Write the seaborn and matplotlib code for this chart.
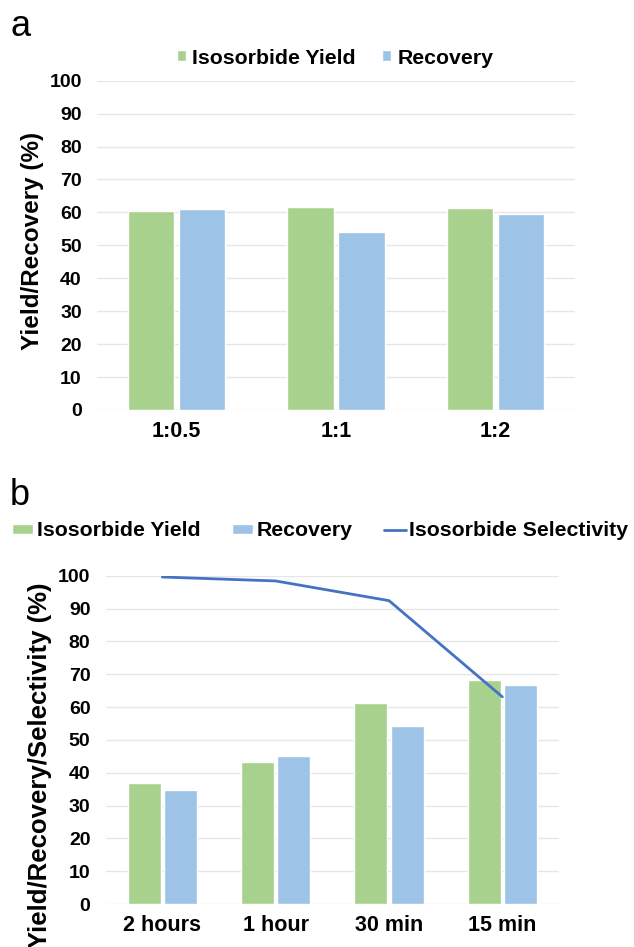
import matplotlib
matplotlib.use("Agg")
import matplotlib.pyplot as plt
import seaborn as sns
import pandas as pd
from matplotlib.patches import Patch
from matplotlib.lines import Line2D

# ---- data ----
ratios = ["1:0.5", "1:1", "1:2"]
yield_a = [60.5, 61.5, 61.4]
recovery_a = [61.1, 54.1, 59.6]

times = ["2 hours", "1 hour", "30 min", "15 min"]
yield_b = [36.9, 43.2, 61.3, 68.3]
recovery_b = [34.7, 45.1, 54.2, 66.8]
selectivity_b = [99.6, 98.4, 92.4, 63.1]

series_names = ["Isosorbide Yield", "Recovery"]
line_name = "Isosorbide Selectivity"
yticks = list(range(0, 101, 10))

GREEN = "#A9D18E"
BLUE = "#9DC3E6"
LINE = "#4472C4"
GRID = "#E6E6E6"

sns.set_style("white")
plt.rcParams["font.family"] = ["Liberation Sans", "DejaVu Sans"]
plt.rcParams["font.weight"] = "bold"
plt.rcParams["text.color"] = "black"
plt.rcParams["xtick.color"] = "black"
plt.rcParams["ytick.color"] = "black"

W, H = 634, 947
fig = plt.figure(figsize=(W / 100, H / 100), dpi=100)


def px_axes(left, top, right, bottom):
    return fig.add_axes([left / W, 1 - bottom / H, (right - left) / W, (bottom - top) / H])


def style_axes(ax):
    ax.set_ylim(0, 100)
    ax.set_yticks(yticks)
    ax.grid(axis="y", color=GRID, linewidth=1)
    ax.set_axisbelow(True)
    for s in ax.spines.values():
        s.set_visible(False)
    ax.tick_params(axis="y", length=0, labelsize=14, pad=11, labelcolor="black")
    ax.tick_params(axis="x", length=0, labelsize=15.5, pad=8, labelcolor="black")
    for t in ax.get_xticklabels() + ax.get_yticklabels():
        t.set_fontweight("bold")
    ax.set_xlabel("")
    ax.set_ylabel("")


# ---- panel a ----
df_a = pd.DataFrame({
    "cat": ratios * 2,
    "val": yield_a + recovery_a,
    "series": [series_names[0]] * 3 + [series_names[1]] * 3,
})
ax1 = px_axes(97, 80.7, 575, 410)
sns.barplot(data=df_a, x="cat", y="val", hue="series", order=ratios,
            hue_order=series_names, palette=[GREEN, BLUE], width=0.64, gap=0.09,
            saturation=1, ax=ax1, legend=False)
ax1.set_xlim(-0.5, len(ratios) - 0.5)
style_axes(ax1)
fig.text(33 / W, 1 - 241 / H, "Yield/Recovery (%)", rotation=90, ha="center",
         va="center", fontsize=17.5, fontweight="bold", color="black")
handles_a = [Patch(facecolor=GREEN, label=series_names[0]),
             Patch(facecolor=BLUE, label=series_names[1])]
fig.legend(handles=handles_a, loc="center", bbox_to_anchor=(335 / W, 1 - 58 / H),
           ncol=2, frameon=False, prop={"weight": "bold", "size": 15.3},
           handlelength=0.42, handleheight=0.42, handletextpad=0.28, columnspacing=1.27,
           borderpad=0, labelcolor="black")
fig.text(10 / W, 1 - 27 / H, "a", fontsize=26, fontweight="normal", va="center",
         ha="left", color="black")

# ---- panel b ----
df_b = pd.DataFrame({
    "cat": times * 2,
    "val": yield_b + recovery_b,
    "series": [series_names[0]] * 4 + [series_names[1]] * 4,
})
ax2 = px_axes(105.7, 575.7, 559, 904)
sns.barplot(data=df_b, x="cat", y="val", hue="series", order=times,
            hue_order=series_names, palette=[GREEN, BLUE], width=0.64, gap=0.09,
            saturation=1, ax=ax2, legend=False)
df_line = pd.DataFrame({"cat": times, "val": selectivity_b})
sns.lineplot(data=df_line, x="cat", y="val", color=LINE, linewidth=2, ax=ax2,
             sort=False)
ax2.set_xlim(-0.5, len(times) - 0.5)
style_axes(ax2)
fig.text(40 / W, 1 - 765 / H, "Yield/Recovery/Selectivity (%)", rotation=90, ha="center",
         va="center", fontsize=18.5, fontweight="bold", color="black")
handles_b = [Patch(facecolor=GREEN, label=series_names[0]),
             Patch(facecolor=BLUE, label=series_names[1]),
             Line2D([0], [0], color=LINE, linewidth=2, label=line_name)]
fig.legend(handles=handles_b, loc="center", bbox_to_anchor=(320 / W, 1 - 531 / H),
           ncol=3, frameon=False, prop={"weight": "bold", "size": 15.3},
           handlelength=1.0, handleheight=0.38, handletextpad=0.15, columnspacing=1.5,
           borderpad=0, labelcolor="black")
fig.text(10 / W, 1 - 495 / H, "b", fontsize=26, fontweight="normal", va="center",
         ha="left", color="black")

fig.savefig("out.png", dpi=100)
